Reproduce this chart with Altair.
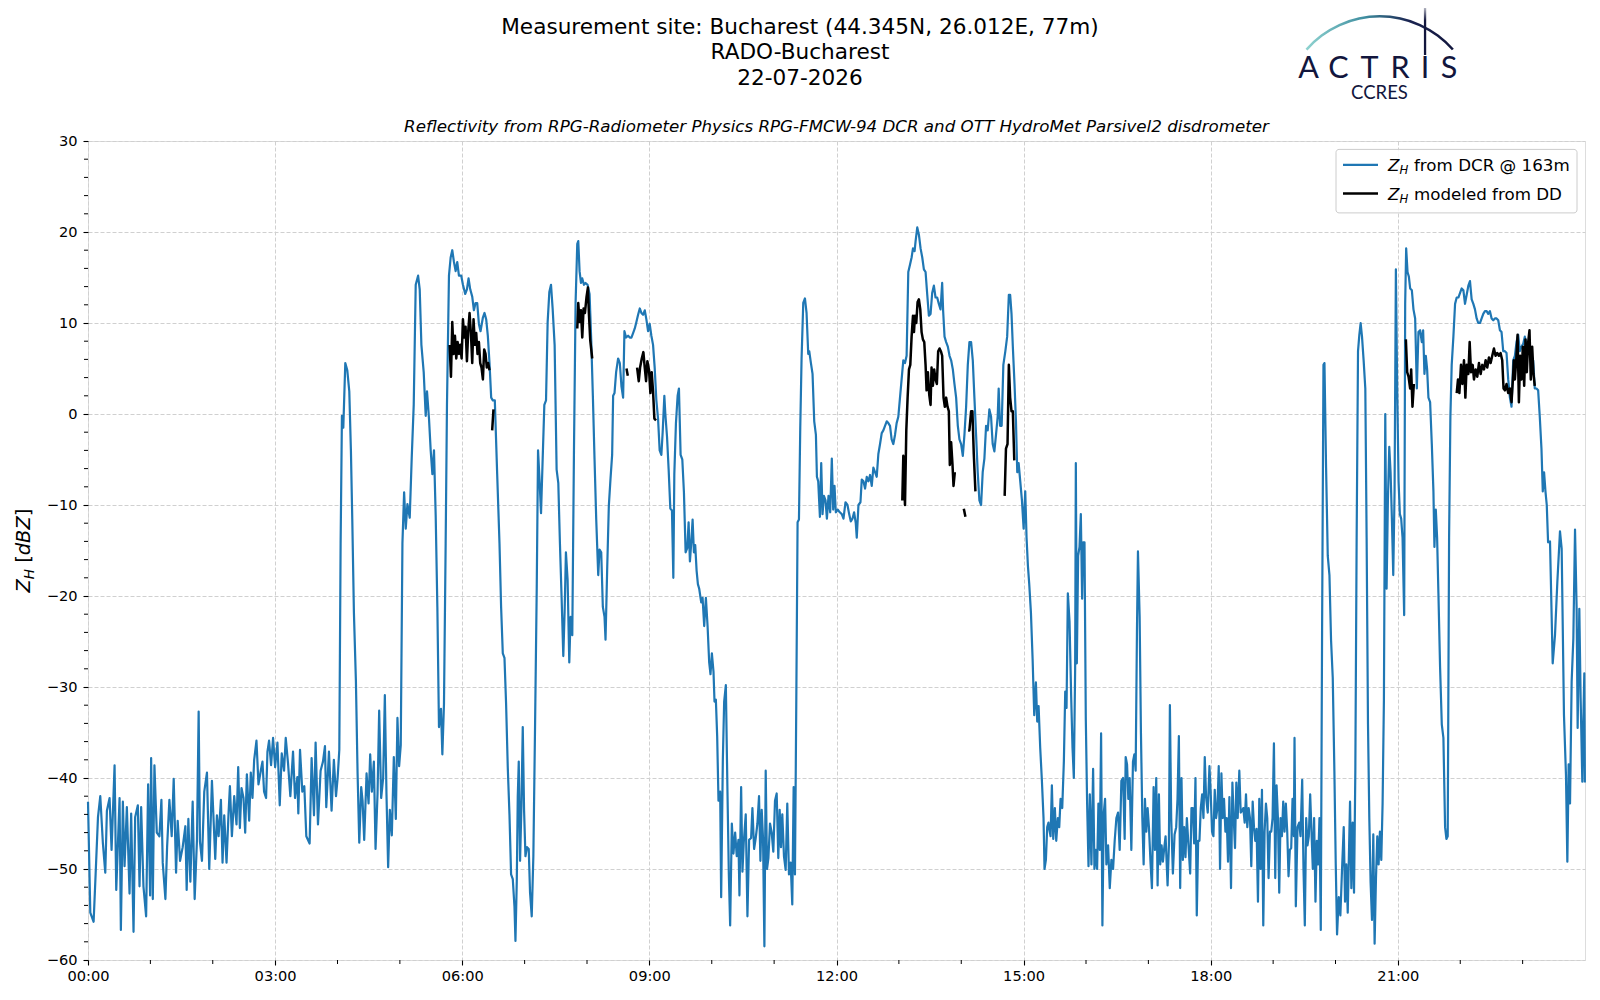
import altair as alt
import pandas as pd

# ---------------- data (hours since 00:00, dBZ) ----------------
DCR_00_04 = [(0.000,-42.6),(0.037,-54.8),(0.090,-55.8),(0.122,-50.6),(0.160,-44.3),(0.197,-42.0),(0.239,-47.2),(0.277,-50.4),(0.303,-43.6),(0.346,-42.2),(0.378,-47.9),(0.426,-38.6),(0.453,-52.3),(0.506,-42.2),(0.527,-56.7),(0.559,-42.6),(0.586,-49.7),(0.623,-43.2),(0.666,-52.7),(0.692,-43.9),(0.730,-56.9),(0.756,-44.3),(0.799,-43.0),(0.826,-51.9),(0.852,-43.2),(0.889,-51.9),(0.932,-55.2),(0.964,-40.7),(0.996,-52.9),(1.012,-37.8),(1.039,-53.3),(1.065,-38.6),(1.103,-46.0),(1.145,-46.4),(1.177,-42.4),(1.198,-49.3),(1.241,-53.3),(1.268,-47.6),(1.305,-42.4),(1.342,-46.4),(1.374,-40.1),(1.412,-50.4),(1.438,-44.7),(1.476,-49.1),(1.518,-47.6),(1.561,-45.3),(1.582,-52.3),(1.609,-44.5),(1.641,-51.4),(1.678,-42.6),(1.710,-53.3),(1.747,-46.8),(1.774,-32.7),(1.795,-47.0),(1.827,-49.1),(1.864,-41.5),(1.907,-39.4),(1.944,-50.0),(1.987,-40.3),(2.040,-48.9),(2.067,-44.1),(2.094,-46.4),(2.131,-42.4),(2.157,-49.3),(2.184,-44.1),(2.221,-49.3),(2.253,-43.9),(2.275,-40.9),(2.307,-46.4),(2.344,-42.0),(2.381,-45.1),(2.408,-38.8),(2.435,-45.5),(2.461,-41.1),(2.493,-42.2),(2.520,-46.0),(2.547,-39.6),(2.584,-44.7),(2.610,-39.4),(2.637,-42.2),(2.664,-38.0),(2.701,-35.9),(2.733,-40.7),(2.770,-39.2),(2.797,-38.2),(2.823,-41.5),(2.855,-42.2),(2.877,-37.1),(2.903,-35.9),(2.935,-38.6),(2.967,-35.6),(3.000,-38.8),(3.037,-36.1),(3.074,-43.0),(3.106,-37.3),(3.143,-39.2),(3.170,-35.6),(3.207,-38.4),(3.244,-42.0),(3.287,-37.1),(3.319,-42.2),(3.356,-39.9),(3.372,-43.9),(3.399,-36.9),(3.436,-41.5),(3.468,-40.9),(3.500,-46.4),(3.553,-47.2),(3.585,-37.8),(3.623,-44.1),(3.649,-36.1),(3.687,-45.1),(3.729,-39.2),(3.767,-38.2),(3.799,-36.5),(3.820,-43.2),(3.863,-37.1),(3.905,-43.6),(3.942,-38.0)]

DCR_04_08 = [(3.976,-42.0),(4.002,-40.0),(4.029,-36.9),(4.050,-14.2),(4.071,-0.2),(4.093,-1.5),(4.125,5.6),(4.157,4.8),(4.189,2.5),(4.215,-4.0),(4.237,-11.6),(4.263,-21.8),(4.295,-29.3),(4.322,-39.5),(4.349,-47.1),(4.380,-41.0),(4.402,-42.5),(4.428,-46.8),(4.466,-39.5),(4.498,-42.8),(4.524,-37.4),(4.551,-41.5),(4.583,-38.2),(4.610,-47.8),(4.642,-41.7),(4.668,-32.6),(4.700,-42.2),(4.732,-40.0),(4.759,-30.9),(4.785,-41.7),(4.812,-49.8),(4.839,-43.5),(4.871,-46.3),(4.903,-37.7),(4.935,-44.5),(4.961,-33.4),(4.988,-38.7),(5.014,-36.4),(5.041,-14.2),(5.068,-8.6),(5.094,-12.6),(5.121,-9.9),(5.158,-11.4),(5.190,-4.8),(5.222,1.0),(5.254,14.2),(5.292,15.2),(5.318,13.7),(5.345,7.6),(5.382,4.6),(5.414,-0.2),(5.435,2.5),(5.467,-0.5),(5.494,-4.0),(5.521,-6.6),(5.547,-4.0),(5.574,-11.1),(5.601,-21.2),(5.627,-34.4),(5.659,-32.4),(5.681,-37.4),(5.707,-31.9),(5.734,-14.2),(5.755,1.0),(5.787,15.2),(5.814,17.2),(5.840,18.0),(5.867,16.7),(5.894,15.7),(5.920,16.7),(5.947,15.2),(5.984,15.2),(6.011,14.2),(6.048,13.2),(6.075,13.7),(6.101,14.9),(6.128,13.7),(6.160,12.9),(6.187,11.4),(6.213,12.2),(6.240,12.2),(6.267,9.9),(6.293,9.1),(6.331,10.6),(6.357,11.1),(6.384,10.4),(6.410,8.6),(6.437,5.6),(6.464,1.8),(6.490,1.5),(6.522,1.5),(6.560,-6.6),(6.597,-14.2),(6.623,-21.2),(6.650,-26.3),(6.677,-26.8),(6.703,-31.9),(6.730,-38.9),(6.757,-44.0),(6.783,-50.6),(6.810,-51.1),(6.837,-54.1),(6.853,-57.9),(6.874,-51.4),(6.890,-42.0),(6.906,-38.2),(6.927,-49.1),(6.949,-43.0),(6.970,-34.4),(6.991,-43.5),(7.013,-48.6),(7.039,-47.6),(7.066,-47.8),(7.087,-52.6),(7.114,-55.2),(7.140,-48.6),(7.167,-34.4),(7.194,-19.2),(7.215,-4.0),(7.236,-6.8),(7.263,-10.9),(7.289,-5.0),(7.316,1.0),(7.343,1.5),(7.369,10.1),(7.396,13.4),(7.423,14.2),(7.449,11.6),(7.481,7.6),(7.513,-6.1),(7.540,-7.6),(7.566,-14.2),(7.593,-20.2),(7.620,-26.6),(7.641,-21.8),(7.662,-15.2),(7.689,-18.2),(7.716,-27.3)]

DCR_08_12 = [(7.737,-22.3),(7.764,-24.3),(7.791,-4.0),(7.817,12.2),(7.844,18.7),(7.860,19.0),(7.881,15.7),(7.903,14.4),(7.924,14.9),(7.951,14.2),(7.977,14.4),(8.009,14.2),(8.041,13.2),(8.068,8.1),(8.094,2.0),(8.121,-5.0),(8.148,-11.6),(8.180,-17.7),(8.201,-14.9),(8.228,-15.2),(8.254,-21.2),(8.281,-22.3),(8.297,-24.8),(8.323,-17.2),(8.350,-10.1),(8.377,-7.1),(8.403,-4.5),(8.419,2.0),(8.441,2.3),(8.467,4.6),(8.499,6.1),(8.526,5.6),(8.553,3.0),(8.579,1.8),(8.600,9.1),(8.627,8.4),(8.659,8.6),(8.686,8.4),(8.712,8.4),(8.739,8.9),(8.766,9.4),(8.792,10.1),(8.819,10.9),(8.846,11.6),(8.872,11.1),(8.899,10.9),(8.926,11.4),(8.952,10.4),(8.979,9.1),(9.005,9.9),(9.032,8.6),(9.059,7.6),(9.085,5.1),(9.112,1.5),(9.139,-0.5),(9.165,-4.0),(9.192,-4.5),(9.213,-2.0),(9.240,2.0),(9.256,0.0),(9.283,-2.5),(9.309,-6.1),(9.336,-10.4),(9.362,-10.6),(9.384,-18.0),(9.400,-6.6),(9.426,-1.0),(9.453,2.0),(9.474,2.8),(9.501,-4.5),(9.528,-5.0),(9.554,-8.6),(9.581,-15.2),(9.608,-14.7),(9.629,-11.9),(9.650,-16.2),(9.671,-14.2),(9.693,-11.6),(9.714,-15.2),(9.735,-14.4),(9.757,-17.2),(9.778,-18.7),(9.799,-19.2),(9.831,-20.7),(9.853,-20.2),(9.879,-23.3),(9.906,-20.2),(9.933,-23.3),(9.959,-27.3),(9.980,-28.6),(10.002,-26.3),(10.028,-28.3),(10.044,-31.6),(10.066,-31.4),(10.087,-35.4),(10.108,-42.5),(10.135,-41.5),(10.151,-53.1),(10.178,-37.9),(10.199,-31.6),(10.226,-29.8),(10.252,-41.5),(10.274,-50.6),(10.295,-56.2),(10.322,-45.0),(10.348,-48.3),(10.375,-46.0),(10.401,-48.6),(10.428,-46.8),(10.444,-52.9),(10.471,-41.0),(10.492,-50.3),(10.513,-47.1),(10.545,-44.0),(10.572,-55.2),(10.599,-46.8),(10.631,-46.6),(10.652,-43.3),(10.679,-47.8),(10.705,-46.6),(10.732,-45.0),(10.758,-42.0),(10.780,-49.1),(10.801,-43.5),(10.822,-46.6),(10.844,-58.5),(10.865,-39.2),(10.886,-50.0),(10.908,-48.8),(10.934,-45.0),(10.961,-46.0),(10.987,-48.1),(11.014,-42.5),(11.041,-41.7),(11.067,-48.8),(11.089,-43.5),(11.110,-47.6),(11.131,-44.0),(11.158,-48.6),(11.185,-50.1),(11.211,-42.8),(11.238,-50.6),(11.265,-49.3),(11.291,-53.9),(11.313,-41.0),(11.334,-50.6),(11.355,-31.9),(11.376,-11.9),(11.398,-11.6),(11.419,-1.5),(11.440,6.1),(11.467,12.2),(11.494,12.7),(11.520,11.1),(11.547,6.6)]

DCR_12_15 = [(11.563,6.9),(11.590,5.6),(11.616,4.4),(11.643,-0.8),(11.670,-2.3),(11.686,-6.9),(11.707,-7.4),(11.734,-11.3),(11.755,-5.4),(11.776,-11.0),(11.798,-9.0),(11.824,-9.5),(11.846,-11.5),(11.872,-9.0),(11.899,-10.8),(11.925,-4.9),(11.947,-10.5),(11.968,-7.9),(11.989,-10.8),(12.021,-10.5),(12.053,-10.8),(12.085,-11.0),(12.112,-11.5),(12.144,-9.7),(12.176,-10.0),(12.203,-11.0),(12.229,-11.8),(12.256,-11.5),(12.282,-10.8),(12.309,-12.0),(12.325,-13.6),(12.352,-10.0),(12.384,-9.7),(12.405,-7.2),(12.432,-7.4),(12.458,-8.2),(12.485,-6.9),(12.512,-7.4),(12.538,-6.7),(12.565,-7.9),(12.591,-5.9),(12.618,-6.4),(12.645,-6.9),(12.671,-4.4),(12.698,-3.3),(12.725,-2.1),(12.751,-1.8),(12.778,-1.3),(12.805,-0.8),(12.831,-1.0),(12.858,-1.3),(12.884,-2.8),(12.911,-3.3),(12.938,-2.3),(12.964,-1.0),(12.991,-0.3),(13.018,1.8),(13.044,3.8),(13.071,5.9),(13.098,5.6),(13.124,6.4),(13.151,15.6),(13.178,16.4),(13.204,17.2),(13.226,18.2),(13.252,17.9),(13.268,19.0),(13.295,20.5),(13.321,19.7),(13.348,18.2),(13.375,17.2),(13.401,15.9),(13.428,15.6),(13.455,13.1),(13.481,10.8),(13.508,11.0),(13.534,13.3),(13.561,14.1),(13.588,12.8),(13.614,12.8),(13.641,12.1),(13.668,11.5),(13.694,14.4),(13.710,11.3),(13.732,8.5),(13.758,7.9),(13.785,7.4),(13.812,6.4),(13.838,5.9),(13.865,4.9),(13.891,3.3),(13.918,1.8),(13.945,-1.3),(13.971,-2.8),(13.998,-3.3),(14.025,-4.6),(14.051,-2.3),(14.078,0.8),(14.105,5.4),(14.131,7.9),(14.158,7.9),(14.185,5.9),(14.211,1.8),(14.238,-2.3),(14.264,-6.4),(14.291,-9.5),(14.318,-10.0),(14.344,-6.4),(14.371,-4.9),(14.398,-1.3),(14.424,-1.8),(14.451,0.5),(14.478,-0.3),(14.504,-3.3),(14.531,-4.1),(14.557,-2.3),(14.584,-0.3),(14.600,2.8),(14.622,-1.3),(14.648,-1.3),(14.675,5.4),(14.707,6.9),(14.736,8.5),(14.763,13.1),(14.784,13.1),(14.806,11.0),(14.827,7.4),(14.854,3.3),(14.877,-0.8),(14.898,-6.4),(14.920,-5.4),(14.946,-7.4),(14.973,-9.5),(15.000,-12.6),(15.026,-8.5),(15.047,-13.6),(15.069,-16.7),(15.090,-18.7),(15.117,-21.8),(15.144,-26.9),(15.170,-33.1),(15.197,-29.5),(15.218,-33.8),(15.240,-32.1),(15.266,-36.7),(15.293,-40.3),(15.319,-44.4),(15.335,-50.0),(15.357,-49.0),(15.378,-45.4),(15.399,-44.9)]

DCR_15_19 = [(15.405,-45.4),(15.432,-46.4),(15.453,-40.8),(15.475,-46.7),(15.501,-43.3),(15.523,-46.9),(15.549,-44.4),(15.571,-45.4),(15.592,-42.3),(15.619,-43.3),(15.645,-38.2),(15.667,-30.5),(15.688,-32.3),(15.709,-19.7),(15.736,-22.8),(15.762,-31.0),(15.784,-36.7),(15.805,-40.0),(15.826,-28.0),(15.837,-5.4),(15.853,-27.4),(15.874,-15.6),(15.896,-14.6),(15.917,-11.0),(15.938,-20.3),(15.954,-14.1),(15.976,-14.1),(15.997,-33.6),(16.018,-42.8),(16.040,-49.7),(16.061,-41.8),(16.087,-49.5),(16.114,-39.0),(16.135,-50.0),(16.157,-47.9),(16.178,-50.0),(16.199,-42.8),(16.221,-47.9),(16.242,-35.1),(16.263,-56.2),(16.285,-43.8),(16.306,-42.3),(16.327,-49.5),(16.354,-47.4),(16.381,-52.1),(16.407,-49.0),(16.434,-50.0),(16.460,-46.9),(16.487,-44.4),(16.514,-43.8),(16.540,-47.9),(16.567,-40.3),(16.594,-40.0),(16.620,-46.7),(16.636,-37.7),(16.658,-38.5),(16.679,-42.3),(16.700,-40.0),(16.727,-47.9),(16.753,-38.2),(16.775,-37.4),(16.796,-39.2),(16.817,-23.8),(16.833,-15.1),(16.860,-22.3),(16.881,-35.1),(16.903,-44.4),(16.924,-49.5),(16.945,-42.3),(16.967,-45.9),(16.988,-43.3),(17.009,-45.4),(17.036,-49.5),(17.057,-52.1),(17.084,-41.0),(17.105,-47.9),(17.126,-40.0),(17.148,-51.8),(17.169,-41.8),(17.190,-49.5),(17.212,-47.4),(17.233,-49.2),(17.254,-47.7),(17.276,-46.4),(17.308,-51.8),(17.329,-47.4),(17.345,-32.0),(17.366,-44.4),(17.393,-50.5),(17.420,-46.2),(17.446,-45.4),(17.467,-42.3),(17.489,-35.4),(17.510,-52.1),(17.531,-40.0),(17.553,-49.0),(17.574,-45.4),(17.595,-48.7),(17.617,-44.4),(17.643,-47.4),(17.670,-50.5),(17.691,-43.3),(17.713,-43.3),(17.734,-47.2),(17.755,-40.0),(17.776,-55.1),(17.798,-46.9),(17.819,-46.9),(17.840,-43.3),(17.862,-41.8),(17.883,-44.4),(17.904,-37.7),(17.925,-42.1),(17.952,-43.8),(17.979,-38.7),(18.000,-41.8),(18.021,-45.9),(18.043,-46.4),(18.064,-41.3),(18.085,-44.4),(18.107,-43.3),(18.128,-38.7),(18.149,-50.0),(18.171,-39.5),(18.192,-44.4),(18.213,-42.3),(18.235,-45.9),(18.256,-44.4),(18.277,-49.2),(18.299,-42.1),(18.325,-52.1),(18.347,-40.5),(18.368,-44.4),(18.389,-47.7),(18.410,-40.5),(18.432,-44.4),(18.458,-39.2),(18.480,-43.8),(18.501,-43.6),(18.522,-43.3),(18.544,-44.9),(18.565,-41.8),(18.586,-45.4),(18.608,-43.3),(18.629,-44.4),(18.650,-49.7),(18.672,-42.6),(18.693,-45.4),(18.714,-46.9),(18.735,-45.6),(18.757,-53.6),(18.778,-42.3),(18.799,-50.0),(18.821,-41.3),(18.842,-56.2),(18.863,-45.9),(18.885,-42.8),(18.906,-44.4),(18.927,-51.0),(18.949,-45.9),(18.970,-45.9),(18.991,-44.4),(19.013,-36.2),(19.034,-51.0),(19.055,-40.8),(19.077,-44.4),(19.098,-52.6),(19.119,-44.4),(19.141,-46.4),(19.162,-42.6),(19.183,-45.9),(19.204,-42.8),(19.226,-45.9),(19.247,-50.8),(19.268,-47.9),(19.290,-47.7),(19.311,-42.3),(19.332,-46.4),(19.343,-35.6),(19.364,-54.1),(19.391,-45.4),(19.418,-44.9)]

DCR_19_24 = [(19.439,-46.4),(19.466,-40.2),(19.487,-50.0),(19.508,-56.2),(19.530,-44.4),(19.551,-47.4),(19.572,-46.4),(19.594,-41.8),(19.615,-45.9),(19.636,-50.0),(19.657,-44.4),(19.679,-53.6),(19.700,-46.9),(19.721,-49.5),(19.743,-44.4),(19.764,-56.7),(19.785,-23.8),(19.807,5.4),(19.823,5.6),(19.849,-5.9),(19.876,-15.6),(19.903,-17.7),(19.929,-24.9),(19.956,-29.0),(19.982,-39.2),(20.004,-49.5),(20.025,-57.2),(20.052,-53.1),(20.078,-55.1),(20.105,-50.0),(20.132,-45.4),(20.153,-53.6),(20.174,-49.5),(20.196,-54.8),(20.212,-49.5),(20.233,-42.6),(20.254,-52.1),(20.275,-44.9),(20.297,-52.6),(20.318,-39.2),(20.339,-13.6),(20.361,6.9),(20.382,8.7),(20.403,10.0),(20.425,8.5),(20.451,5.9),(20.478,2.8),(20.499,-13.6),(20.521,-34.1),(20.542,-44.4),(20.563,-51.5),(20.585,-55.6),(20.606,-46.2),(20.627,-58.2),(20.649,-51.0),(20.670,-46.4),(20.691,-49.5),(20.712,-45.9),(20.734,-49.0),(20.755,-42.8),(20.776,-31.5),(20.798,0.0),(20.819,-19.2),(20.840,-9.5),(20.862,-3.6),(20.883,-6.4),(20.904,-11.5),(20.926,-17.7),(20.947,-8.5),(20.968,15.9),(20.989,2.8),(21.011,-7.4),(21.032,-11.0),(21.053,-11.5),(21.075,-13.6),(21.101,-22.1),(21.117,12.1),(21.133,18.2),(21.155,15.6),(21.176,15.1),(21.197,13.8),(21.224,13.6),(21.250,11.5),(21.277,10.5),(21.304,2.8),(21.330,9.0),(21.357,9.2),(21.384,7.9),(21.405,9.2),(21.426,4.4),(21.448,6.4),(21.469,4.9),(21.490,1.8),(21.517,1.3),(21.544,-3.3),(21.570,-8.5),(21.586,-14.6),(21.608,-10.5),(21.629,-13.6),(21.650,-19.7),(21.677,-27.9),(21.704,-34.1),(21.730,-35.6),(21.757,-45.4),(21.778,-46.7),(21.799,-46.4),(21.821,-13.6),(21.842,-0.3),(21.863,5.4),(21.890,8.5),(21.917,12.1),(21.943,12.8),(21.970,12.8),(21.997,13.3),(22.023,13.8),(22.050,13.6),(22.076,12.1),(22.103,13.1),(22.130,14.1),(22.156,14.6),(22.183,12.6),(22.210,12.1),(22.236,11.5),(22.263,10.5),(22.289,10.0),(22.316,10.0),(22.343,10.5),(22.369,11.0),(22.396,11.3),(22.423,11.3),(22.449,11.0),(22.476,11.3),(22.503,10.5),(22.529,10.3),(22.556,10.5),(22.582,10.5),(22.609,10.3),(22.636,9.2),(22.662,9.0),(22.689,6.9),(22.716,6.9),(22.742,6.7),(22.769,3.8),(22.796,1.8),(22.822,0.8),(22.849,5.9),(22.876,6.4),(22.902,7.9),(22.929,8.7),(22.955,6.9),(22.982,7.4),(23.009,7.7),(23.035,8.5),(23.062,7.7),(23.089,7.9),(23.115,6.9),(23.142,6.4),(23.169,5.9),(23.195,2.8),(23.222,2.8),(23.249,2.6),(23.275,-0.3),(23.302,-3.8),(23.323,-8.5),(23.344,-6.4),(23.366,-8.5),(23.387,-10.0),(23.408,-14.1),(23.439,-14.0),(23.482,-27.4),(23.519,-24.3),(23.557,-18.4),(23.599,-12.9),(23.626,-14.8),(23.663,-33.1),(23.695,-39.7),(23.717,-49.2),(23.738,-38.5),(23.760,-42.8),(23.786,-29.4),(23.813,-24.7),(23.840,-12.7),(23.866,-21.4),(23.882,-34.5),(23.909,-21.4),(23.930,-31.2),(23.957,-40.4),(23.973,-33.8),(23.989,-28.5),(23.998,-40.5)]

# disdrometer-modelled reflectivity, one list per uninterrupted segment
DD_SEGMENTS = [
    [(5.798,7.6),(5.819,4.1),(5.840,10.1),(5.862,6.6),(5.883,8.6),(5.904,6.1),(5.926,7.9),(5.947,6.6),(5.968,7.6),(5.990,6.1),(6.011,10.4),(6.032,8.4),(6.053,9.6),(6.075,5.8),(6.096,9.1),(6.117,11.1),(6.139,8.9),(6.160,5.6),(6.181,10.4),(6.203,7.6),(6.224,8.9),(6.245,6.6),(6.267,7.9),(6.288,5.6),(6.309,5.1),(6.331,3.8),(6.352,7.1),(6.373,6.6),(6.394,5.1),(6.416,5.6),(6.437,4.8)],
    [(6.480,-1.8),(6.501,0.5)],
    [(7.844,9.4),(7.860,12.2),(7.881,10.1),(7.903,11.4),(7.924,8.4),(7.945,11.6),(7.967,11.1),(7.993,12.9),(8.015,13.9),(8.030,11.1),(8.052,8.1),(8.084,6.1)],
    [(8.633,5.0),(8.654,4.2)],
    [(8.803,5.1),(8.830,3.6),(8.851,5.1),(8.878,6.1),(8.904,6.8),(8.926,5.1),(8.947,3.6),(8.968,5.8),(8.995,4.8),(9.016,2.3),(9.037,4.6),(9.059,2.5),(9.080,-0.5),(9.107,-0.7)],
    [(13.055,-9.5),(13.071,-4.6),(13.098,-10.0),(13.119,-1.8),(13.140,1.8),(13.162,4.9),(13.183,5.4),(13.204,8.5),(13.226,10.8),(13.242,9.0),(13.258,10.8),(13.279,10.0),(13.300,12.3),(13.321,12.6),(13.343,11.5),(13.364,9.0),(13.385,8.2),(13.407,7.9),(13.428,5.4),(13.444,2.6),(13.465,4.6),(13.487,2.1),(13.508,1.0),(13.524,5.1),(13.545,3.1),(13.566,4.9),(13.588,3.8),(13.609,3.3),(13.630,6.9),(13.652,7.2),(13.673,6.9),(13.694,6.4),(13.716,1.8),(13.737,0.8),(13.758,1.8),(13.780,0.8),(13.801,0.3),(13.817,-5.6),(13.838,-3.1),(13.860,-5.6),(13.876,-7.9),(13.897,-6.4)],
    [(14.041,-10.4),(14.067,-11.3)],
    [(14.110,-1.8),(14.131,-1.8),(14.158,0.3),(14.179,0.3),(14.201,-4.4),(14.227,-8.5)],
    [(14.696,-9.0),(14.717,-3.8),(14.742,-3.3),(14.763,5.4),(14.784,1.8),(14.806,0.3),(14.827,0.3),(14.850,-5.1)],
    [(21.128,8.2),(21.149,4.6),(21.171,4.1),(21.197,2.8),(21.213,4.9),(21.234,0.8),(21.256,3.3)],
    [(21.943,2.3),(21.964,3.8),(21.986,2.3),(22.012,5.4),(22.034,3.3),(22.060,5.9),(22.082,1.8),(22.103,5.4),(22.130,4.4),(22.151,7.9),(22.172,4.6),(22.199,5.4),(22.220,3.8),(22.247,4.9),(22.273,4.1),(22.300,5.6),(22.327,4.4),(22.353,5.4),(22.380,4.9),(22.407,5.9),(22.433,5.1),(22.460,6.2),(22.487,5.6),(22.513,6.4),(22.540,7.2),(22.566,6.4),(22.593,6.7),(22.620,6.4),(22.646,6.7),(22.673,5.9),(22.694,2.8),(22.716,2.6),(22.742,3.3),(22.769,2.3),(22.796,2.8),(22.822,1.3),(22.844,3.8),(22.860,5.9),(22.876,3.8),(22.897,5.9),(22.919,8.7),(22.940,1.3),(22.961,6.4),(22.982,3.8),(23.003,7.4),(23.025,3.1),(23.046,8.2),(23.067,4.6),(23.089,7.9),(23.110,9.2),(23.131,3.8),(23.153,7.4),(23.174,4.4),(23.195,3.1)],
]

MAJOR_X = [0, 3, 6, 9, 12, 15, 18, 21]
MINOR_X = [h for h in range(1, 24) if h % 3 != 0]
MAJOR_Y = [-60, -50, -40, -30, -20, -10, 0, 10, 20, 30]
MINOR_Y = [v for v in range(-58, 30, 2) if v % 10 != 0]

TITLE_LINES = ["Measurement site: Bucharest (44.345N, 26.012E, 77m)", "RADO-Bucharest", "22-07-2026"]
SUBTITLE = "Reflectivity from RPG-Radiometer Physics RPG-FMCW-94 DCR and OTT HydroMet Parsivel2 disdrometer"
LEGEND_LABELS = ["from DCR @ 163m", "modeled from DD"]

# ---------------- build ----------------
BLUE = "#1f77b4"
NAVY = "#12163d"
FONT = "DejaVu Sans"
W, H = 1497, 819

dcr = pd.DataFrame(DCR_00_04 + DCR_04_08 + DCR_08_12 + DCR_12_15 + DCR_15_19 + DCR_19_24, columns=["t", "v"])
dd_rows = []
for i, seg in enumerate(DD_SEGMENTS):
    for t, v in seg:
        dd_rows.append({"t": t, "v": v, "seg": i})
dd = pd.DataFrame(dd_rows)
ONE = pd.DataFrame({"d": [0]})

xs = alt.Scale(domain=[0, 24], nice=False, zero=False)
ys = alt.Scale(domain=[-60, 30], nice=False, zero=False)

axis_common = dict(title=None, grid=True, gridColor="#d0d0d0", gridDash=[4, 2], gridWidth=1,
                   domain=False, ticks=True, tickSize=5, tickColor="black", tickWidth=1.1,
                   labelFont=FONT, labelFontSize=14.6, labelColor="black",
                   labelOverlap=False, labelFlush=False)
XAXIS = alt.Axis(values=MAJOR_X, labelExpr="(datum.value < 10 ? '0' : '') + datum.value + ':00'",
                 labelPadding=3, **axis_common)
YAXIS = alt.Axis(values=MAJOR_Y, format="d", labelPadding=6, **axis_common)
X = alt.X("t:Q", scale=xs, axis=XAXIS)
Y = alt.Y("v:Q", scale=ys, axis=YAXIS)

blue_line = alt.Chart(dcr).mark_line(color=BLUE, strokeWidth=2.2, strokeJoin="round").encode(x=X, y=Y)
black_line = alt.Chart(dd).mark_line(color="black", strokeWidth=2.5, strokeJoin="round").encode(
    x=X, y=Y, detail="seg:N")

minor_x = alt.Chart(pd.DataFrame({"t": MINOR_X})).mark_rule(color="black", strokeWidth=1).encode(
    x=X, y=alt.value(H), y2=alt.value(H + 4))
minor_y = alt.Chart(pd.DataFrame({"v": MINOR_Y})).mark_rule(color="black", strokeWidth=1).encode(
    y=Y, x=alt.value(0), x2=alt.value(-4))


def txt(s, x, y, size, font=FONT, align="center", baseline="alphabetic", color="black", **kw):
    return alt.Chart(ONE).mark_text(text=s, font=font, fontSize=size, align=align, baseline=baseline,
                                    color=color, **kw).encode(x=alt.value(x), y=alt.value(y))


layers = [blue_line, black_line, minor_x, minor_y]

# titles (three centred lines)
for line, yy in zip(TITLE_LINES, [-107.1, -81.7, -56.3]):
    layers.append(txt(line, 712, yy, 21.6))
layers.append(txt(SUBTITLE, 748.5, -9.3, 16.7, fontStyle="italic"))

# y-axis title  Z_H [dBZ]
yb = -58.4
layers.append(txt("Z", yb, 451.5, 19.4, align="left", angle=270, fontStyle="italic"))
layers.append(txt("H", yb + 4.5, 438.2, 13.6, align="left", angle=270, fontStyle="italic"))
layers.append(txt("[", yb, 421.8, 19.4, align="left", angle=270))
layers.append(txt("dBZ", yb, 414.2, 19.4, align="left", angle=270, fontStyle="italic"))
layers.append(txt("]", yb, 375.3, 19.4, align="left", angle=270))

# legend
LX = -4
layers.append(alt.Chart(ONE).mark_rect(fill="white", fillOpacity=0.85, stroke="#cccccc", strokeWidth=1,
                                       cornerRadius=3).encode(
    x=alt.value(1252 + LX), x2=alt.value(1493 + LX), y=alt.value(8.4), y2=alt.value(71.9)))
for col, yy, lab in zip([BLUE, "black"], [23.8, 52.4], LEGEND_LABELS):
    layers.append(alt.Chart(ONE).mark_rule(color=col, strokeWidth=2.2 if col == BLUE else 2.5).encode(
        x=alt.value(1259 + LX), x2=alt.value(1294 + LX), y=alt.value(yy)))
    bl = yy + 6.1
    layers.append(txt("Z", 1304 + LX, bl, 16.7, align="left", fontStyle="italic"))
    layers.append(txt("H", 1315.4 + LX, bl + 3.3, 11.7, align="left", fontStyle="italic"))
    layers.append(txt(lab, 1330 + LX, bl, 16.7, align="left"))

# logo
arc_grad = alt.LinearGradient(gradient="linear", x1=0, y1=0, x2=1, y2=0, stops=[
    alt.GradientStop(offset=0, color="#8fd3d0"),
    alt.GradientStop(offset=0.4, color="#3f8ea0"),
    alt.GradientStop(offset=0.7, color="#1a2350"),
    alt.GradientStop(offset=1, color=NAVY)])
layers.append(alt.Chart(ONE).mark_arc(theta=5.431, theta2=7.135, radius=98.5, radius2=96.0,
                                      fill=arc_grad).encode(x=alt.value(1291.7), y=alt.value(-27.4)))
bar_grad = alt.LinearGradient(gradient="linear", x1=0, y1=0, x2=0, y2=1, stops=[
    alt.GradientStop(offset=0, color="#ffffff"),
    alt.GradientStop(offset=0.35, color=NAVY),
    alt.GradientStop(offset=1, color=NAVY)])
layers.append(alt.Chart(ONE).mark_rect(fill=bar_grad).encode(
    x=alt.value(1335.9), x2=alt.value(1338.2), y=alt.value(-139), y2=alt.value(-86)))
for letter, xx in zip("ACTRIS", [1220.7, 1250.5, 1281.5, 1312, 1337, 1361]):
    layers.append(txt(letter, xx, -63.0, 30.5, font="Lato", color=NAVY))
layers.append(txt("CCRES", 1291.5, -42, 18.5, font="Lato", color=NAVY))

chart = alt.layer(*layers).properties(
    width=W, height=H,
    autosize=alt.AutoSizeParams(type="none"),
    padding={"left": 80, "top": 133, "right": 5, "bottom": 40},
).configure_view(stroke="black", strokeWidth=1.1).configure(background="white")

chart.save("out.html", embed_options={"renderer": "svg", "actions": False})
